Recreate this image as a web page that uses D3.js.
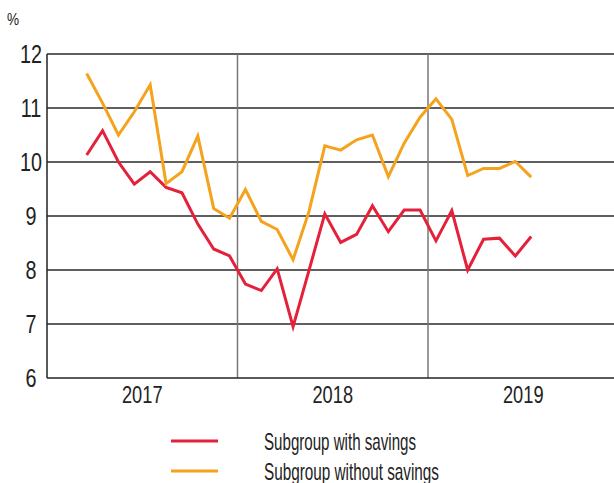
<!DOCTYPE html>
<html><head><meta charset="utf-8">
<script src="https://cdn.jsdelivr.net/npm/d3@7"></script>
<style>body{margin:0;background:#fff}svg{display:block}text{font-family:"Liberation Sans",Arial,sans-serif;fill:#222}</style>
</head><body><svg id="c" width="614" height="483"></svg>
<script>
const months = ["2017-03","2017-04","2017-05","2017-06","2017-07","2017-08","2017-09","2017-10","2017-11","2017-12",
"2018-01","2018-02","2018-03","2018-04","2018-05","2018-06","2018-07","2018-08","2018-09","2018-10","2018-11","2018-12",
"2019-01","2019-02","2019-03","2019-04","2019-05","2019-06","2019-07"];
const withSavings = [10.13,10.58,10.0,9.59,9.82,9.53,9.43,8.85,8.39,8.26,7.74,7.62,8.02,6.95,7.99,9.04,8.51,8.66,9.19,8.71,9.11,9.11,8.54,9.1,8.0,8.57,8.59,8.26,8.62];
const withoutSavings = [11.64,11.09,10.5,10.93,11.43,9.6,9.82,10.48,9.14,8.96,9.49,8.9,8.75,8.19,9.08,10.3,10.22,10.41,10.5,9.73,10.35,10.83,11.17,10.79,9.75,9.88,9.88,10.01,9.72];
const years = ["2017","2018","2019"];
const yTicks = [6,7,8,9,10,11,12];
const seriesNames = ["Subgroup with savings","Subgroup without savings"];
const colors = ["#e5203a","#f5a21c"];

const svg = d3.select("#c");
const x0 = 47;
const x = d3.scaleLinear().domain([0,36]).range([x0, x0+36*15.875]);
const y = d3.scaleLinear().domain([6,12]).range([378,54]);
const idx = m => { const [yy,mm] = m.split("-").map(Number); return (yy-2017)*12 + (mm-1) + 0.5; };

// horizontal grid
svg.append("g").selectAll("line").data(yTicks.filter(t=>t>6)).join("line")
  .attr("x1",x0).attr("x2",614).attr("y1",d=>y(d)).attr("y2",d=>y(d))
  .attr("stroke","#2a2a2a").attr("stroke-width",1.3);
// year separators
svg.append("g").selectAll("line").data([12,24]).join("line")
  .attr("x1",d=>x(d)).attr("x2",d=>x(d)).attr("y1",y(12)).attr("y2",y(6))
  .attr("stroke","#777").attr("stroke-width",1.5);
// axes lines
svg.append("line").attr("x1",x0).attr("x2",x0).attr("y1",y(12)).attr("y2",y(6)).attr("stroke","#222").attr("stroke-width",1.5);
svg.append("line").attr("x1",x0).attr("x2",614).attr("y1",y(6)).attr("y2",y(6)).attr("stroke","#222").attr("stroke-width",1.5);

// y labels (condensed)
svg.append("g").selectAll("text").data(yTicks).join("text")
  .attr("transform",d=>`translate(31,${y(d)}) scale(0.79,1)`).attr("dy","0.36em").attr("text-anchor","middle")
  .style("font-size","25px").text(d=>d);
svg.append("text").attr("transform","translate(7,25) scale(0.85,1)").style("font-size","16px").text("%");
// year labels
svg.append("g").selectAll("text").data(years).join("text")
  .attr("transform",(d,i)=>`translate(${x(i*12+6)},403) scale(0.76,1)`).attr("text-anchor","middle")
  .style("font-size","24px").text(d=>d);

const line = d3.line().x((d,i)=>x(idx(months[i]))).y(d=>y(d));
[withSavings, withoutSavings].forEach((s,k)=>{
  svg.append("path").datum(s).attr("d",line).attr("fill","none")
    .attr("stroke",colors[k]).attr("stroke-width",3).attr("stroke-linejoin","miter");
});

// legend
const ly = [441,471];
const lw = [152,175];
seriesNames.forEach((n,k)=>{
  svg.append("line").attr("x1",171).attr("x2",218).attr("y1",ly[k]).attr("y2",ly[k])
    .attr("stroke",colors[k]).attr("stroke-width",3);
  svg.append("text").attr("x",264).attr("y",ly[k]+9).style("font-size","24px")
    .attr("textLength",lw[k]).attr("lengthAdjust","spacingAndGlyphs").text(n);
});
</script></body></html>
